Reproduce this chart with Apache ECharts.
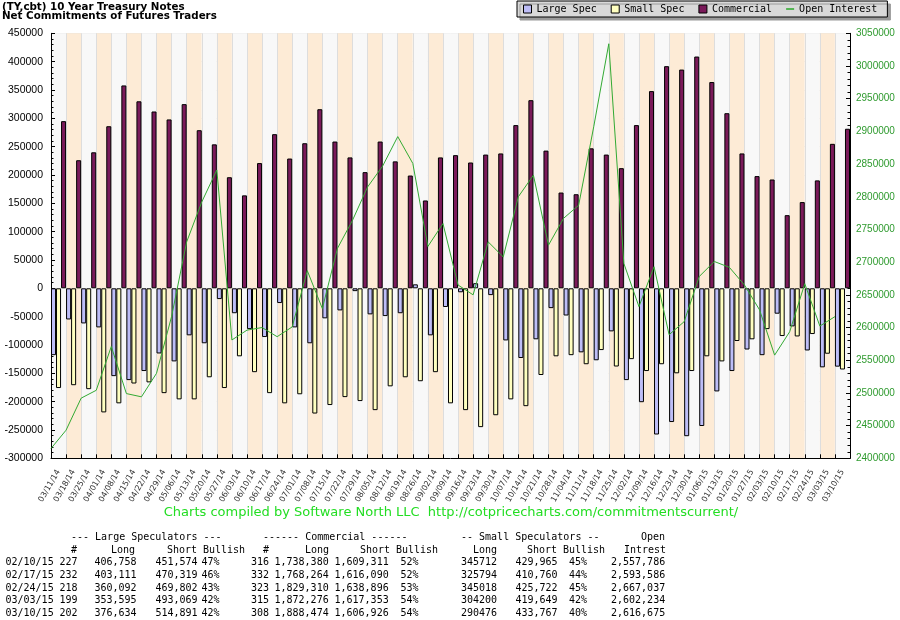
<!DOCTYPE html>
<html><head><meta charset="utf-8">
<script src="https://cdn.jsdelivr.net/npm/echarts@6/dist/echarts.min.js"></script>
<style>html,body{margin:0;padding:0;background:#fff;}#c{width:900px;height:620px;}</style>
</head><body><div id="c"></div>
<script>
const categories = ['03/11/14','03/18/14','03/25/14','04/01/14','04/08/14','04/15/14','04/22/14','04/29/14','05/06/14','05/13/14','05/20/14','05/27/14','06/03/14','06/10/14','06/17/14','06/24/14','07/01/14','07/08/14','07/15/14','07/22/14','07/29/14','08/05/14','08/12/14','08/19/14','08/26/14','09/02/14','09/09/14','09/16/14','09/23/14','09/30/14','10/07/14','10/14/14','10/21/14','10/28/14','11/04/14','11/11/14','11/18/14','11/25/14','12/02/14','12/09/14','12/16/14','12/23/14','12/30/14','01/06/15','01/13/15','01/20/15','01/27/15','02/03/15','02/10/15','02/17/15','02/24/15','03/03/15','03/10/15'];
const largeSpec = [-118000,-55000,-62000,-69000,-155000,-162000,-146000,-115000,-129000,-83000,-97000,-19000,-44000,-72000,-86000,-26000,-69000,-97000,-53000,-39000,-5000,-46000,-49000,-44000,7000,-83000,-33000,-7000,9000,-12000,-92000,-123000,-90000,-35000,-48000,-113000,-127000,-76000,-162000,-201000,-258000,-236000,-261000,-243000,-182000,-146000,-108000,-118000,-44816,-67208,-109710,-139474,-138257];
const smallSpec = [-176000,-171000,-178000,-219000,-203000,-168000,-166000,-185000,-196000,-196000,-157000,-176000,-120000,-148000,-185000,-203000,-187000,-221000,-206000,-192000,-199000,-215000,-173000,-157000,-164000,-148000,-203000,-215000,-245000,-224000,-196000,-208000,-153000,-120000,-118000,-134000,-109000,-138000,-125000,-146000,-134000,-150000,-146000,-120000,-129000,-93000,-90000,-72000,-84253,-84966,-80704,-115449,-143291];
const commercial = [295000,226000,240000,286000,358000,330000,312000,298000,325000,279000,254000,196000,164000,221000,272000,229000,256000,316000,259000,231000,205000,259000,224000,199000,155000,231000,235000,222000,236000,238000,288000,332000,243000,169000,166000,247000,236000,212000,288000,348000,392000,386000,409000,364000,309000,238000,198000,192000,129069,152174,190414,254923,281548];
const openInterest = [2415000,2443000,2492000,2504000,2571000,2499000,2494000,2530000,2617000,2731000,2792000,2841000,2581000,2596000,2600000,2586000,2601000,2687000,2629000,2721000,2764000,2815000,2847000,2892000,2851000,2724000,2759000,2665000,2650000,2731000,2708000,2800000,2833000,2726000,2767000,2787000,2907000,3034000,2698000,2632000,2693000,2589000,2609000,2678000,2701000,2692000,2665000,2627000,2557786,2593586,2667037,2602234,2616675];

const tableDates = ['02/10/15','02/17/15','02/24/15','03/03/15','03/10/15'];
const lsTraders = ['227','232','218','199','202'];
const lsLong = ['406,758','403,111','360,092','353,595','376,634'];
const lsShort = ['451,574','470,319','469,802','493,069','514,891'];
const lsBullish = ['47%','46%','43%','42%','42%'];
const cmTraders = ['316','332','323','315','308'];
const cmLong = ['1,738,380','1,768,264','1,829,310','1,872,276','1,888,474'];
const cmShort = ['1,609,311','1,616,090','1,638,896','1,617,353','1,606,926'];
const cmBullish = ['52%','52%','53%','54%','54%'];
const ssLong = ['345712','325794','345018','304200','290476'];
const ssShort = ['429,965','410,760','425,722','419,649','433,767'];
const ssBullish = ['45%','44%','45%','42%','40%'];
const oiTable = ['2,557,786','2,593,586','2,667,037','2,602,234','2,616,675'];
const headTop = [['--- Large Speculators ---',71],['------ Commercial ------',263],['-- Small Speculators --',461],['Open',641]];
const headSub = [['#',71],['Long',111],['Short',167],['Bullish',203],['#',263],['Long',305],['Short',360],['Bullish',396],['Long',473],['Short',527],['Bullish',563],['Intrest',624]];

const chart = echarts.init(document.getElementById('c'), null, {renderer:'canvas'});
const MONO = '10px "DejaVu Sans Mono"';
function txt(x, y, s, font, fill) {
  return {type:'text', x:x, y:y, silent:true,
    style:{text:s, font:font, fill:fill, verticalAlign:'middle', textVerticalAlign:'middle'}};
}
const graphics = [];
graphics.push(txt(2, 7, '(TY,cbt) 10 Year Treasury Notes', 'bold 10.3px "DejaVu Sans"', '#000'));
graphics.push(txt(2, 16.5, 'Net Commitments of Futures Traders', 'bold 10.3px "DejaVu Sans"', '#000'));
graphics.push({type:'text', x:451, y:513, silent:true, style:{text:'Charts compiled by Software North LLC  http://cotpricecharts.com/commitmentscurrent/', font:'13px "DejaVu Sans"', fill:'#22dd22', align:'center', textAlign:'center', verticalAlign:'middle', textVerticalAlign:'middle'}});
const rowY0 = 537.5, rowStep = 12.65;
headTop.forEach(h => graphics.push(txt(h[1], rowY0, h[0], MONO, '#000')));
headSub.forEach(h => graphics.push(txt(h[1], rowY0 + rowStep, h[0], MONO, '#000')));
const cols = [[tableDates,5.5],[lsTraders,59.5],[lsLong,94.5],[lsShort,155.5],[lsBullish,201.5],[cmTraders,251],[cmLong,274.5],[cmShort,334.5],[cmBullish,400.5],[ssLong,461],[ssShort,515.5],[ssBullish,569],[oiTable,611]];
tableDates.forEach((d, r) => {
  cols.forEach(c => graphics.push(txt(c[1], rowY0 + rowStep * (r + 2), c[0][r], MONO, '#000')));
});
const plain = v => String(v);

const option = {
  animation: false,
  backgroundColor: '#ffffff',
  grid: {left: 51, right: 50, top: 33.3, bottom: 161.7, containLabel: false},
  legend: {
    left: 517, top: 1, orient: 'horizontal',
    itemWidth: 8, itemHeight: 8, itemGap: 14,
    padding: [3, 10, 3, 6],
    backgroundColor: '#d9d9d9', borderColor: '#000', borderWidth: 1, borderRadius: 0,
    shadowColor: '#9a9a9a', shadowOffsetX: 3, shadowOffsetY: 3, shadowBlur: 0,
    selectedMode: false,
    textStyle: {fontFamily: 'DejaVu Sans Mono', fontSize: 10, color: '#000'},
    itemStyle: {borderColor: '#000', borderWidth: 1},
    data: [
      {name: 'Large Spec', icon: 'rect'},
      {name: 'Small Spec', icon: 'rect'},
      {name: 'Commercial', icon: 'rect'},
      {name: 'Open Interest', icon: 'path://M0,0L10,0L10,2L0,2Z', itemStyle: {color: '#33aa33', borderWidth: 0}}
    ]
  },
  xAxis: [{
    type: 'category', data: categories, boundaryGap: true,
    axisLine: {show: true, onZero: false, lineStyle: {color: '#000', width: 1}},
    axisTick: {show: true, inside: true, length: 4, lineStyle: {color: '#000'}},
    axisLabel: {rotate: 60, interval: 0, fontSize: 8, fontFamily: 'DejaVu Sans', color: '#333', margin: 12},
    splitLine: {show: true, lineStyle: {color: '#dddddd', width: 1}},
    splitArea: {show: true, areaStyle: {color: ['#f8f8f8', '#fdebd6']}}
  }, {
    type: 'value', min: 0, max: 53, show: false
  }],
  yAxis: [{
    type: 'value', min: -300000, max: 450000, interval: 50000,
    axisLine: {show: true, lineStyle: {color: '#000', width: 1}},
    axisTick: {show: true, inside: true, length: 4, lineStyle: {color: '#000'}},
    minorTick: {show: true, splitNumber: 5, length: 2.5, lineStyle: {color: '#000'}},
    axisLabel: {fontSize: 10.5, fontFamily: 'Liberation Sans', color: '#000', margin: 8, formatter: plain},
    splitLine: {show: true, lineStyle: {color: '#dddddd', width: 1}},
    minorSplitLine: {show: false}
  }, {
    type: 'value', position: 'right', min: 2400000, max: 3050000, interval: 50000,
    axisLine: {show: true, lineStyle: {color: '#000', width: 1}},
    axisTick: {show: true, inside: true, length: 4, lineStyle: {color: '#000'}},
    minorTick: {show: true, splitNumber: 5, length: 2.5, lineStyle: {color: '#000'}},
    axisLabel: {fontSize: 10, fontFamily: 'Liberation Sans', color: '#2e9a2e', margin: 6, formatter: plain},
    splitLine: {show: false}
  }],
  series: [
    {name: 'Large Spec', type: 'bar', data: largeSpec, barGap: '0%', barCategoryGap: '0%',
     itemStyle: {color: '#bdbdf7', borderColor: '#000', borderWidth: 1}},
    {name: 'Small Spec', type: 'bar', data: smallSpec, barGap: '0%', barCategoryGap: '0%',
     itemStyle: {color: '#ffffc0', borderColor: '#000', borderWidth: 1}},
    {name: 'Commercial', type: 'bar', data: commercial, barGap: '0%', barCategoryGap: '0%',
     itemStyle: {color: '#7a1a5a', borderColor: '#000', borderWidth: 1}},
    {name: 'Open Interest', type: 'line', xAxisIndex: 1, yAxisIndex: 1,
     data: openInterest.map((v, i) => [i, v]), symbol: 'none', showSymbol: false,
     lineStyle: {color: '#33aa33', width: 1}, itemStyle: {color: '#33aa33'}, z: 5}
  ],
  graphic: graphics
};
chart.setOption(option);
</script></body></html>
